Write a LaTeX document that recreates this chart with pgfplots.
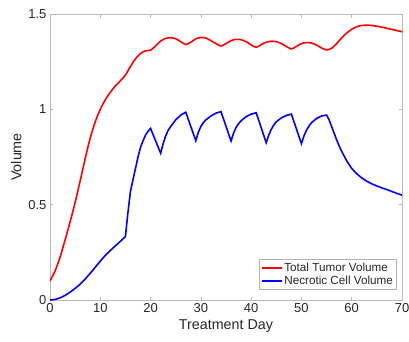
\documentclass[border=0pt]{standalone}
\usepackage{pgfplots}
\pgfplotsset{compat=1.18}
\usepackage{fontspec}
\setmainfont{Liberation Sans}
\begin{document}
\begin{tikzpicture}
\begin{axis}[
  name=ax,
  scale only axis,
  width=352pt, height=286pt,
  xmin=0, xmax=70, ymin=0, ymax=1.5,
  xtick={0,10,...,70}, ytick={0,0.5,1,1.5},
  yticklabels={0,0.5,1,1.5},
  tick align=inside,
  major tick length=3.5pt,
  axis line style={gray!55, line width=0.6pt},
  tick style={gray!55, line width=0.6pt},
  /pgf/number format/assume math mode=true,
  ticklabel style={font=\fontsize{13}{15}\selectfont, text=black!85},
  label style={font=\fontsize{14.3}{16}\selectfont, text=black!85},
  xlabel={Treatment Day},
  ylabel={Volume},
  xlabel style={yshift=0pt},
  ylabel style={yshift=0pt},
  legend style={at={(0.985,0.035)}, anchor=south east, draw=gray!60, line width=0.6pt,
    font=\fontsize{11.7}{13}\selectfont, text=black!85, inner sep=1.5pt, row sep=-1pt,
    /tikz/every even column/.append style={column sep=1pt}},
  legend cell align=left,
  legend image code/.code={\draw[#1] (0pt,0pt) -- (20pt,0pt);},
]
\addplot[red, line width=1.6pt, smooth, tension=0.5] coordinates {
(0,0.1) (1,0.152) (2,0.225) (3,0.315) (4,0.41) (5,0.512) (6,0.625) (7,0.742) (8,0.85) (9,0.935) (10,1.0)
(11,1.05) (12,1.09) (13,1.123) (14,1.15) (15,1.18) (16,1.225) (17,1.265) (18,1.293) (19,1.307) (20,1.31)
(21,1.333) (22,1.358) (23,1.372) (24,1.376) (25,1.37) (26,1.355) (27,1.34) (28,1.352) (29,1.37) (30,1.377)
(31,1.374) (32,1.36) (33,1.345) (34,1.332) (35,1.345) (36,1.36) (37,1.367) (38,1.365) (39,1.355) (40,1.338)
(41,1.325) (42,1.34) (43,1.352) (44,1.357) (45,1.355) (46,1.345) (47,1.33) (48,1.317) (49,1.33) (50,1.345)
(51,1.35) (52,1.348) (53,1.337) (54,1.322) (55,1.312) (56,1.32) (57,1.345) (58,1.375) (59,1.40) (60,1.42)
(61,1.433) (62,1.44) (63,1.441) (64,1.44) (65,1.436) (66,1.431) (67,1.425) (68,1.419) (69,1.413) (70,1.407)
};
\addlegendentry{Total Tumor Volume}
\addplot[blue, line width=1.6pt] coordinates {
(0,0) (1,0.003) (2,0.011) (3,0.024) (4,0.041) (5,0.061) (6,0.083) (7,0.11) (8,0.14) (9,0.172) (10,0.204)
(11,0.234) (12,0.26) (13,0.284) (14,0.308) (15,0.333)
(15.5,0.46) (16,0.57) (16.5,0.63) (17,0.69) (17.5,0.75) (18,0.80) (18.5,0.835) (19,0.865) (19.5,0.885) (20,0.90)
(22,0.77) (22.5,0.82) (23,0.86) (23.5,0.89) (24,0.91) (25,0.945) (26,0.97) (27,0.985)
(29,0.835) (29.5,0.88) (30,0.91) (30.5,0.93) (31,0.945) (32,0.965) (33,0.98) (34,0.988)
(36,0.834) (36.5,0.875) (37,0.905) (37.5,0.925) (38,0.94) (39,0.962) (40,0.975) (41,0.982)
(43,0.825) (43.5,0.865) (44,0.895) (44.5,0.918) (45,0.935) (46,0.955) (47,0.968) (48,0.975)
(50,0.82) (50.5,0.86) (51,0.89) (51.5,0.912) (52,0.93) (53,0.952) (54,0.965) (55,0.97)
(55.5,0.945) (56,0.91) (56.5,0.875) (57,0.84) (57.5,0.808) (58,0.78) (59,0.73) (60,0.69) (61,0.662) (62,0.64)
(63,0.623) (64,0.609) (65,0.598) (66,0.588) (67,0.579) (68,0.569) (69,0.559) (70,0.55)
};
\addlegendentry{Necrotic Cell Volume}
\end{axis}
\pgfresetboundingbox
\path ([xshift=-50pt,yshift=-41pt]ax.south west) rectangle ([xshift=7pt,yshift=14pt]ax.north east);
\end{tikzpicture}
\end{document}
